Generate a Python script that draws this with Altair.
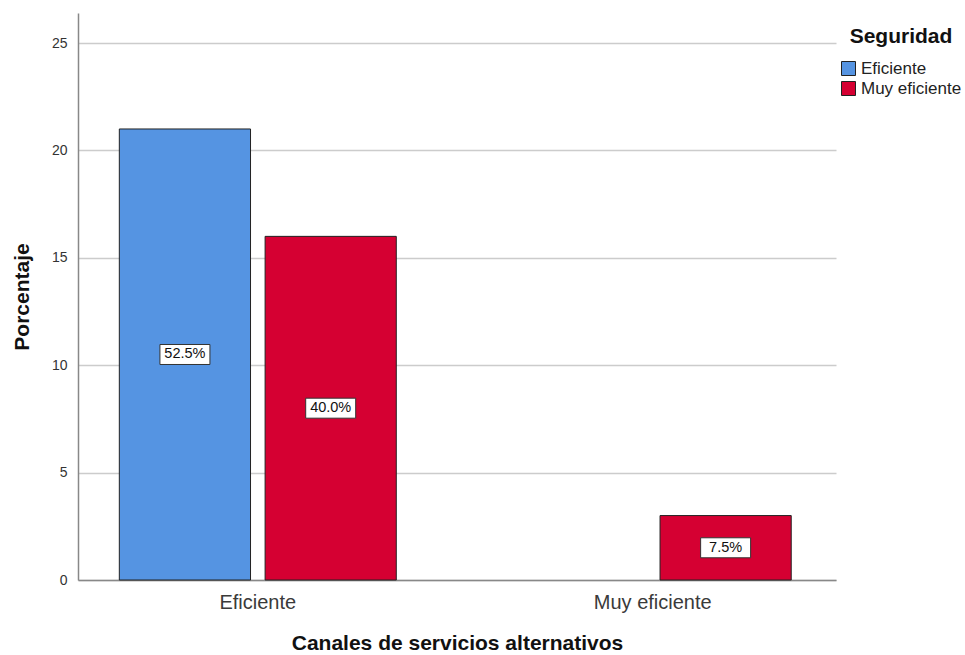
import altair as alt
import pandas as pd

canales = ["Eficiente", "Eficiente", "Muy eficiente", "Muy eficiente"]
seguridad = ["Eficiente", "Muy eficiente", "Eficiente", "Muy eficiente"]
porcentaje = [21.0, 16.0, 0.0, 3.0]
etiquetas = ["52.5%", "40.0%", "", "7.5%"]

cat_order = ["Eficiente", "Muy eficiente"]
ser_order = ["Eficiente", "Muy eficiente"]
colors = ["#5594E2", "#D50032"]

df = pd.DataFrame({
    "canal": canales,
    "seg": seguridad,
    "pct": porcentaje,
    "lab": etiquetas,
})
df["mid"] = df["pct"] / 2
df = df[df["pct"] > 0]

FONT = "Liberation Sans"

x_enc = alt.X("canal:N", sort=cat_order,
              scale=alt.Scale(domain=cat_order, paddingInner=0.2987, paddingOuter=0.109,
                              align=0.48),
              axis=alt.Axis(title="Canales de servicios alternativos", labelAngle=0,
                            labelFontSize=20, labelColor="#3a3a3a", labelFont=FONT,
                            labelPadding=12, ticks=False, domainColor="#888888",
                            domainWidth=1.5, titleFontSize=21, titleFont=FONT,
                            titleFontWeight="bold", titleColor="#111111",
                            titlePadding=20, grid=False))
xoff = alt.XOffset("seg:N", sort=ser_order,
                   scale=alt.Scale(domain=ser_order, paddingInner=0.1, paddingOuter=0))
y_scale = alt.Scale(domain=[0, 26.4], nice=False)

bars = alt.Chart(df).mark_bar(stroke="#222222", strokeWidth=1).encode(
    x=x_enc,
    xOffset=xoff,
    y=alt.Y("pct:Q", scale=y_scale,
            axis=alt.Axis(title="Porcentaje", values=[0, 5, 10, 15, 20, 25],
                          labelFontSize=14, labelColor="#333333", labelFont=FONT,
                          labelPadding=11, ticks=False, domainColor="#888888",
                          domainWidth=1.5, gridColor="#cccccc", gridWidth=1.5,
                          titleFontSize=21, titleFont=FONT, titleFontWeight="bold",
                          titleColor="#111111", titlePadding=19)),
    color=alt.Color("seg:N", sort=ser_order,
                    scale=alt.Scale(domain=ser_order, range=colors),
                    legend=alt.Legend(title="Seguridad", orient="none",
                                      legendX=762, legendY=13,
                                      titleFontSize=21, titleFont=FONT,
                                      titleFontWeight="bold", titleColor="#111111",
                                      titlePadding=13, titleAnchor="middle",
                                      labelFontSize=17, labelFont=FONT,
                                      labelColor="#222222", symbolType="square",
                                      symbolSize=196, symbolStrokeColor="#222222",
                                      symbolStrokeWidth=1, symbolOpacity=1,
                                      rowPadding=1, labelOffset=4)),
)

boxes = alt.Chart(df).mark_point(
    shape="M-1,-0.4L1,-0.4L1,0.4L-1,0.4Z", size=2500, filled=True,
    fill="white", stroke="#333333", strokeWidth=1, opacity=1,
).encode(
    x=alt.X("canal:N", sort=cat_order),
    xOffset=alt.XOffset("seg:N", sort=ser_order),
    y=alt.Y("mid:Q"),
)

texts = alt.Chart(df).mark_text(fontSize=14.5, font=FONT, color="#111111").encode(
    x=alt.X("canal:N", sort=cat_order),
    xOffset=alt.XOffset("seg:N", sort=ser_order),
    y=alt.Y("mid:Q"),
    text="lab:N",
)

chart = alt.layer(bars, boxes, texts).properties(
    width=758, height=567,
    autosize=alt.AutoSizeParams(type="none"),
    padding={"left": 78, "top": 13, "right": 129, "bottom": 75},
    background="white",
).configure_view(stroke=None)

chart.save("out.html", embed_options={"renderer": "svg", "actions": False})
